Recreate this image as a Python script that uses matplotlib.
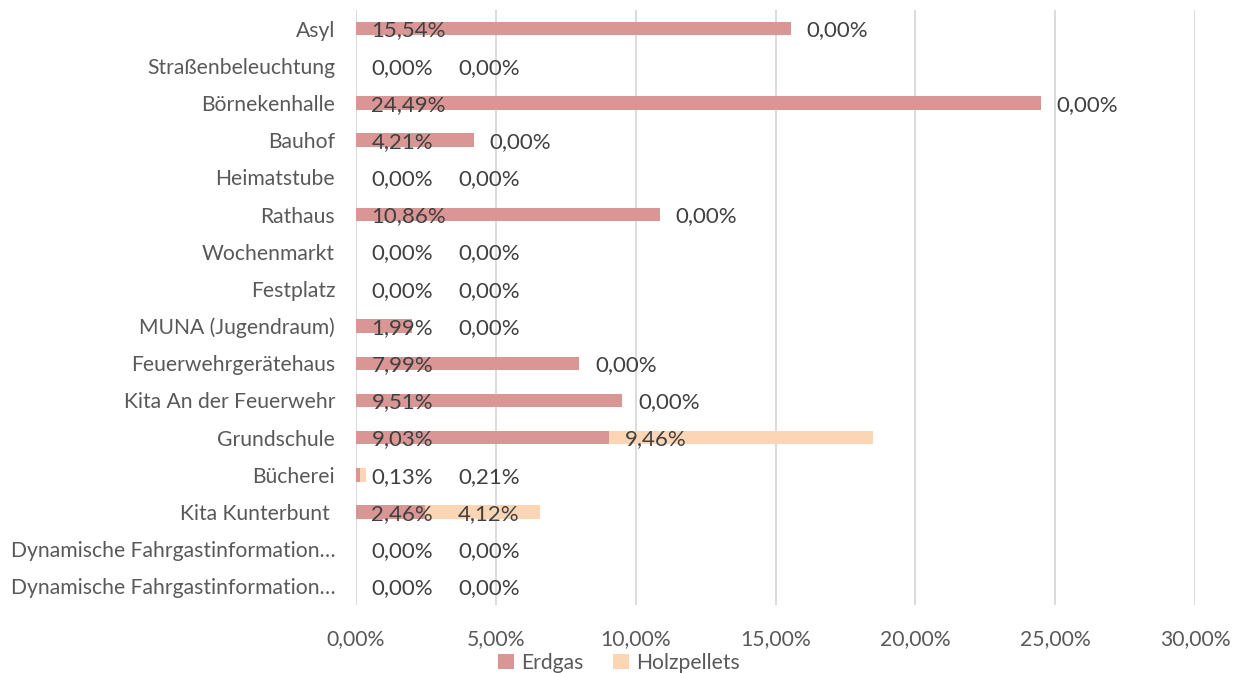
import numpy as np
import matplotlib.pyplot as plt
from matplotlib.ticker import FuncFormatter

plt.rcParams['font.family'] = ['Lato', 'DejaVu Sans']

# Daten (von oben nach unten)
kategorien = ["Asyl", "Straßenbeleuchtung", "Börnekenhalle", "Bauhof", "Heimatstube",
              "Rathaus", "Wochenmarkt", "Festplatz", "MUNA (Jugendraum)",
              "Feuerwehrgerätehaus", "Kita An der Feuerwehr", "Grundschule", "Bücherei",
              "Kita Kunterbunt ", "Dynamische Fahrgastinformation…",
              "Dynamische Fahrgastinformation…"]
erdgas = [15.54, 0.00, 24.49, 4.21, 0.00, 10.86, 0.00, 0.00, 1.99, 7.99, 9.51, 9.03,
          0.13, 2.46, 0.00, 0.00]
holzpellets = [0.00, 0.00, 0.00, 0.00, 0.00, 0.00, 0.00, 0.00, 0.00, 0.00, 0.00, 9.46,
               0.21, 4.12, 0.00, 0.00]

farbe_erdgas = "#D99694"
farbe_holz = "#FCD5B5"
text_farbe = "#595959"
fs_achse = 15.2
fs_daten = 16

fig = plt.figure(figsize=(12.38, 6.73), dpi=100)
ax = fig.add_axes([356/1238, 1 - 605/673, (1195-356)/1238, (605-10)/673])

y = np.arange(len(kategorien))
ax.barh(y, erdgas, height=0.36, color=farbe_erdgas, label="Erdgas")
ax.barh(y, holzpellets, left=erdgas, height=0.36, color=farbe_holz, label="Holzpellets")

# Datenbeschriftungen wie in Excel (innen am Anfang)
for i in range(len(kategorien)):
    ax.text(0.55, i + 0.05, f"{erdgas[i]:.2f}%".replace(".", ","), va="center", ha="left",
            fontsize=fs_daten, color="#404040")
    x_holz = max(erdgas[i] + 0.57, 3.65)
    ax.text(x_holz, i + 0.05, f"{holzpellets[i]:.2f}%".replace(".", ","), va="center",
            ha="left", fontsize=fs_daten, color="#404040")

ax.set_xlim(0, 30)
ax.set_ylim(len(kategorien) - 0.5, -0.5)
ax.set_xticks(np.arange(0, 31, 5))
ax.xaxis.set_major_formatter(FuncFormatter(lambda v, p: f"{v:.2f}%".replace(".", ",")))
ax.set_yticks(y)
ax.set_yticklabels(kategorien)
ax.tick_params(length=0, labelsize=fs_achse, colors=text_farbe)
ax.tick_params(axis="x", pad=17)
ax.tick_params(axis="y", pad=15)
ax.grid(axis="x", color="#D9D9D9", linewidth=1.3)
ax.set_axisbelow(True)
for s in ax.spines.values():
    s.set_visible(False)

fig.legend(*ax.get_legend_handles_labels(), loc="center",
           bbox_to_anchor=(0.5, 1 - 663/673), ncol=2, frameon=False,
           fontsize=fs_achse, handlelength=0.75, handleheight=0.75, handletextpad=0.35,
           columnspacing=1.4, labelcolor=text_farbe, borderpad=0)

fig.savefig("out.png", dpi=100)
